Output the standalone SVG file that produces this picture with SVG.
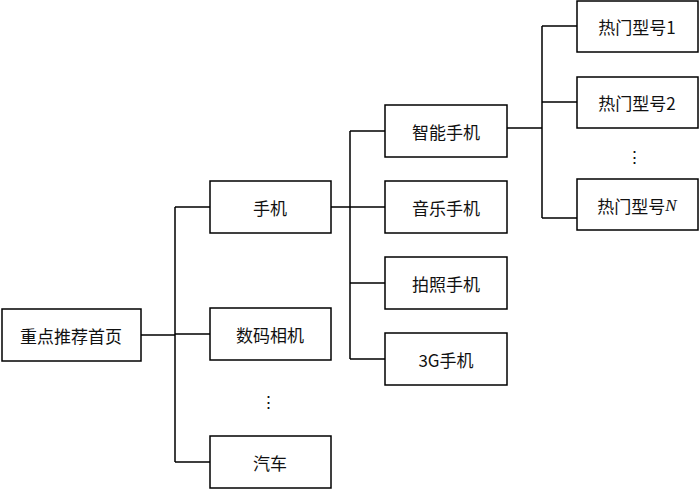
<svg xmlns="http://www.w3.org/2000/svg" width="700" height="490" viewBox="0 0 700 490">
<style>
rect{fill:#fff;stroke:#000;stroke-width:1.5}
text{font-family:"Noto Sans CJK SC","Liberation Serif",serif;font-size:17px;text-anchor:middle;dominant-baseline:central;fill:#111}
.c path{fill:none;stroke:#000;stroke-width:1.5}
</style>
<rect width="700" height="490" style="stroke:none"/>
<g class="c" id="connectors">
<path d="M141 335H175M175 207V462M175 207H210M175 334H210M175 462H210"/>
<path d="M331 207H385M350 131V359M350 131H385M350 283H385M350 359H385"/>
<path d="M507 128H542M542 26V218M542 26H577M542 102H577M542 218H577"/>
</g>
<g id="n0"><rect x="2" y="309" width="139" height="52"/><text x="71" y="335">重点推荐首页</text></g>
<g id="n1"><rect x="210" y="181" width="121" height="52"/><text x="270" y="207">手机</text></g>
<g id="n2"><rect x="210" y="308" width="121" height="52"/><text x="270" y="334">数码相机</text></g>
<g id="d1"><text x="268" y="400">⋮</text></g>
<g id="n3"><rect x="210" y="436" width="121" height="52"/><text x="270" y="462">汽车</text></g>
<g id="n4"><rect x="385" y="105" width="122" height="52"/><text x="446" y="131">智能手机</text></g>
<g id="n5"><rect x="385" y="181" width="122" height="52"/><text x="446" y="207">音乐手机</text></g>
<g id="n6"><rect x="385" y="257" width="122" height="52"/><text x="446" y="283">拍照手机</text></g>
<g id="n7"><rect x="385" y="333" width="122" height="52"/><text x="446" y="359">3G手机</text></g>
<g id="n8"><rect x="577" y="1" width="121" height="51"/><text x="637" y="26">热门型号1</text></g>
<g id="n9"><rect x="577" y="77" width="121" height="51"/><text x="637" y="102">热门型号2</text></g>
<g id="d2"><text x="634" y="155">⋮</text></g>
<g id="n10"><rect x="577" y="179" width="121" height="51"/><text x="637" y="205">热门型号<tspan font-style="italic" font-family="Liberation Serif">N</tspan></text></g>
</svg>
